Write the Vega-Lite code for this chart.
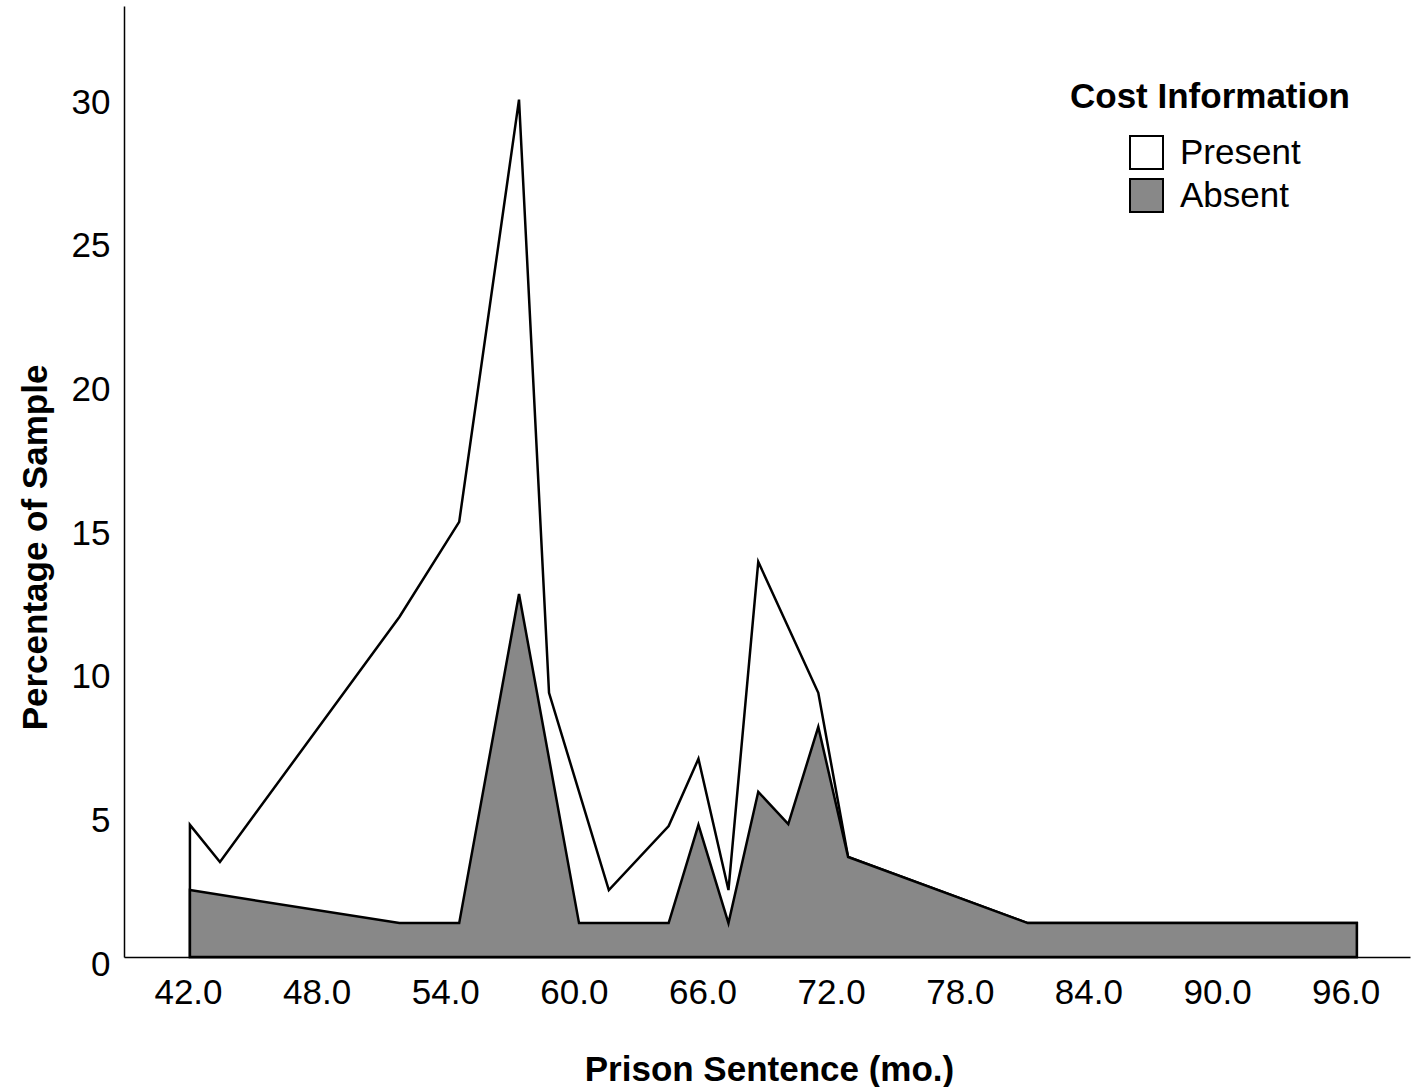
{
  "$schema": "https://vega.github.io/schema/vega-lite/v6.json",
  "width": 1286,
  "height": 951,
  "autosize": {"type": "none"},
  "padding": {"left": 124, "top": 6, "right": 7, "bottom": 130},
  "background": "white",
  "config": {"view": {"stroke": null}, "font": "Liberation Sans"},
  "data": {
    "values": [
      {"cost": "Present", "months": 42.09, "pct": 4.60},
      {"cost": "Present", "months": 43.49, "pct": 3.31},
      {"cost": "Present", "months": 51.86, "pct": 11.84},
      {"cost": "Present", "months": 54.65, "pct": 15.15},
      {"cost": "Present", "months": 57.44, "pct": 29.85},
      {"cost": "Present", "months": 58.84, "pct": 9.20},
      {"cost": "Present", "months": 61.63, "pct": 2.33},
      {"cost": "Present", "months": 64.42, "pct": 4.56},
      {"cost": "Present", "months": 65.81, "pct": 6.90},
      {"cost": "Present", "months": 67.21, "pct": 2.33},
      {"cost": "Present", "months": 68.60, "pct": 13.76},
      {"cost": "Present", "months": 71.40, "pct": 9.20},
      {"cost": "Present", "months": 72.79, "pct": 3.48},
      {"cost": "Present", "months": 81.17, "pct": 1.18},
      {"cost": "Present", "months": 96.52, "pct": 1.18},
      {"cost": "Absent", "months": 42.09, "pct": 2.33},
      {"cost": "Absent", "months": 51.86, "pct": 1.18},
      {"cost": "Absent", "months": 54.65, "pct": 1.18},
      {"cost": "Absent", "months": 57.44, "pct": 12.64},
      {"cost": "Absent", "months": 60.24, "pct": 1.18},
      {"cost": "Absent", "months": 64.42, "pct": 1.18},
      {"cost": "Absent", "months": 65.81, "pct": 4.60},
      {"cost": "Absent", "months": 67.21, "pct": 1.18},
      {"cost": "Absent", "months": 68.60, "pct": 5.75},
      {"cost": "Absent", "months": 70.00, "pct": 4.63},
      {"cost": "Absent", "months": 71.40, "pct": 8.01},
      {"cost": "Absent", "months": 72.79, "pct": 3.48},
      {"cost": "Absent", "months": 81.17, "pct": 1.18},
      {"cost": "Absent", "months": 96.52, "pct": 1.18}
    ]
  },
  "encoding": {
    "x": {
      "field": "months",
      "type": "quantitative",
      "scale": {"domain": [39.015, 99.0], "nice": false, "zero": false},
      "axis": {
        "values": [42, 48, 54, 60, 66, 72, 78, 84, 90, 96],
        "format": ".1f",
        "ticks": false,
        "tickSize": 0,
        "grid": false,
        "domainColor": "black",
        "domainWidth": 1.5,
        "labelFontSize": 35,
        "labelColor": "black",
        "labelBaseline": "alphabetic",
        "labelPadding": 46,
        "labelFlush": false,
        "labelOverlap": false,
        "title": "Prison Sentence (mo.)",
        "titleFontSize": 35,
        "titleFontWeight": "bold",
        "titleColor": "black",
        "titleBaseline": "alphabetic",
        "titleAlign": "center",
        "titleX": 645,
        "titleY": 123
      }
    },
    "y": {
      "field": "pct",
      "type": "quantitative",
      "stack": null,
      "scale": {"domain": [0, 33.11], "nice": false},
      "axis": {
        "values": [0, 5, 10, 15, 20, 25, 30],
        "format": "d",
        "ticks": false,
        "tickSize": 0,
        "grid": false,
        "domainColor": "black",
        "domainWidth": 1.5,
        "labelFontSize": 35,
        "labelColor": "black",
        "labelPadding": 14,
        "labelOffset": 7,
        "labelBaseline": "middle",
        "labelFlush": false,
        "labelOverlap": false,
        "title": "Percentage of Sample",
        "titleFontSize": 35,
        "titleFontWeight": "bold",
        "titleColor": "black",
        "titleBaseline": "alphabetic",
        "titleAngle": -90,
        "titleAlign": "center",
        "titleX": -78,
        "titleY": 541
      }
    },
    "fill": {
      "field": "cost",
      "type": "nominal",
      "scale": {"domain": ["Present", "Absent"], "range": ["#ffffff", "#888888"]},
      "legend": {
        "orient": "none",
        "legendX": 946,
        "legendY": 74,
        "padding": 0,
        "title": "Cost Information",
        "titleFontSize": 35,
        "titleFontWeight": "bold",
        "titleColor": "black",
        "titleBaseline": "top",
        "titlePadding": 20,
        "titleLimit": 1000,
        "labelFontSize": 35,
        "labelColor": "black",
        "labelLimit": 1000,
        "labelOffset": 16,
        "symbolType": "square",
        "symbolSize": 1089,
        "symbolStrokeColor": "black",
        "symbolStrokeWidth": 2,
        "symbolOpacity": 1,
        "symbolOffset": 59,
        "rowPadding": 2
      }
    }
  },
  "layer": [
    {
      "transform": [{"filter": "datum.cost === 'Present'"}],
      "mark": {"type": "area", "stroke": "black", "strokeWidth": 2.5, "opacity": 1, "strokeJoin": "miter"}
    },
    {
      "transform": [{"filter": "datum.cost === 'Absent'"}],
      "mark": {"type": "area", "stroke": "black", "strokeWidth": 2.5, "opacity": 1, "strokeJoin": "miter"}
    }
  ]
}
